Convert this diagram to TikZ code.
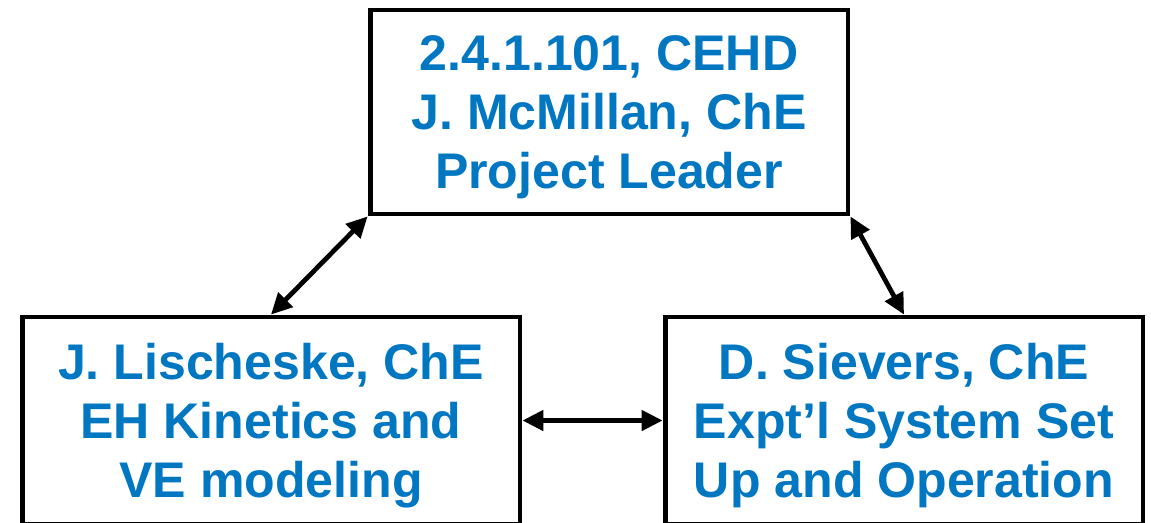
\documentclass[tikz,border=0pt]{standalone}
\usepackage{fontspec}
\setmainfont{Liberation Sans}
\usetikzlibrary{arrows.meta, positioning}
\definecolor{teamblue}{RGB}{0,119,192}
\tikzset{
    teambox/.style={draw, line width=2.8pt, fill=white, align=center, text=teamblue,
        font=\fontsize{28.5}{33.5}\selectfont\bfseries, inner sep=0pt, text depth=0pt},
    link/.style={{Triangle[length=0.42cm,width=0.4cm]}-{Triangle[length=0.42cm,width=0.4cm]}, line width=2.7pt}
}
\begin{document}
\begin{tikzpicture}[x=0.02cm, y=-0.02cm]
    \useasboundingbox (0,0) rectangle (1151,522);
    \coordinate (c1) at (609, 112);
    \coordinate (c2) at (271, 420.5);
    \coordinate (c3) at (904, 420.5);
    \node[teambox, minimum width=9.56cm, minimum height=4.08cm] (lead) at (c1) {2.4.1.101, CEHD\\J. McMillan, ChE\\Project Leader};
    \node[teambox, minimum width=9.96cm, minimum height=4.14cm] (kin) at (c2) {J. Lischeske, ChE\\EH Kinetics and\\VE modeling};
    \node[teambox, minimum width=9.56cm, minimum height=4.14cm] (expt) at (c3) {D. Sievers, ChE\\Expt’l System Set\\Up and Operation};
    \draw[link] (lead.south west) -- (kin.north);
    \draw[link] (lead.south east) -- (expt.north);
    \draw[link] (kin.east) -- (expt.west);
\end{tikzpicture}
\end{document}
